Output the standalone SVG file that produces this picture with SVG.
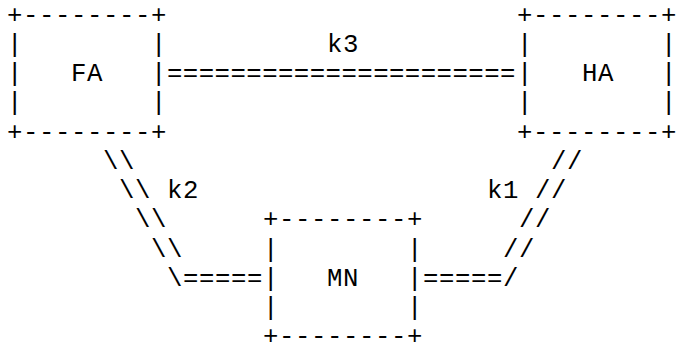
<svg xmlns="http://www.w3.org/2000/svg" width="677" height="352" viewBox="0 0 677 352">
<style>
text{font-family:"Liberation Mono","Courier New",monospace;font-size:25.7px;letter-spacing:0.58px;fill:#000;white-space:pre}
</style>
<rect width="677" height="352" fill="#fff"/>
<g id="FA">
<text x="7" y="22.5">+--------+</text>
<text x="7" y="51.75">|</text><text x="151" y="51.75">|</text>
<text x="7" y="81">|</text><text x="151" y="81">|</text>
<text x="7" y="110.25">|</text><text x="151" y="110.25">|</text>
<text x="7" y="139.5">+--------+</text>
<text x="71" y="81">FA</text>
</g>
<g id="HA">
<text x="517" y="22.5">+--------+</text>
<text x="517" y="51.75">|</text><text x="661" y="51.75">|</text>
<text x="517" y="81">|</text><text x="661" y="81">|</text>
<text x="517" y="110.25">|</text><text x="661" y="110.25">|</text>
<text x="517" y="139.5">+--------+</text>
<text x="582" y="81">HA</text>
</g>
<g id="MN">
<text x="263" y="227.25">+--------+</text>
<text x="263" y="256.5">|</text><text x="407" y="256.5">|</text>
<text x="263" y="285.75">|</text><text x="407" y="285.75">|</text>
<text x="263" y="315">|</text><text x="407" y="315">|</text>
<text x="263" y="344.25">+--------+</text>
<text x="327" y="285.75">MN</text>
</g>
<g id="connectors">
<g id="k3">
<text x="167" y="81" textLength="349" lengthAdjust="spacing">======================</text>
<text x="327" y="51.75">k3</text>
</g>
<g id="k2">
<text x="103" y="168.75">\\</text>
<text x="119" y="198">\\</text>
<text x="135" y="227.25">\\</text>
<text x="151" y="256.5">\\</text>
<text x="167" y="285.75">\=====</text>
<text x="167" y="198">k2</text>
</g>
<g id="k1">
<text x="551" y="168.75">//</text>
<text x="535" y="198">//</text>
<text x="519" y="227.25">//</text>
<text x="503" y="256.5">//</text>
<text x="423" y="285.75">=====/</text>
<text x="487" y="198">k1</text>
</g>
</g>
</svg>
